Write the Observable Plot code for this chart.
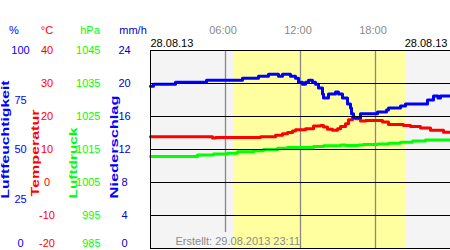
<!DOCTYPE html>
<html><head><meta charset="utf-8">
<script src="https://cdn.jsdelivr.net/npm/d3@7"></script>
<script src="https://cdn.jsdelivr.net/npm/@observablehq/plot@0.6"></script>
<style>html,body{margin:0;padding:0;background:#fff} svg{display:block}</style>
</head><body><div id="chart"></div>
<script>
// ---- data ----
const dateLabel = "28.08.13";
const createdLabel = "Erstellt: 29.08.2013 23:11";
const timeTicks = [6, 12, 18];
const timeLabels = ["06:00", "12:00", "18:00"];
const daylight = [6.64, 20.4];

const humTicks = [0, 25, 50, 75, 100];
const tempTicks = [-20, -10, 0, 10, 20, 30, 40];
const pressTicks = [985, 995, 1005, 1015, 1025, 1035, 1045];
const precipTicks = [0, 4, 8, 12, 16, 20, 24];

const humHours = [0, 0.24, 2.0, 4.48, 7.36, 8.64, 9.44, 10.24, 10.56, 11.2, 11.6, 11.84, 12.16, 12.4, 12.64, 12.96, 13.2, 13.44, 13.76, 13.84, 14.24, 14.8, 15.04, 15.36, 15.76, 16.0, 16.08, 16.24, 16.8, 18.16, 18.88, 19.04, 20.0, 20.4, 22.16, 22.64, 23.0, 23.2, 23.95];
const humValues = [82, 83, 84, 85, 86, 87, 88, 87, 88, 87, 86, 84, 83, 84, 85, 84, 83, 81, 78, 76, 78, 79, 78, 76, 73, 71, 68, 66, 68, 69, 70, 71, 72, 73, 75, 77, 76, 77, 77];

const tempHours = [0, 4.96, 5.2, 8.8, 10.0, 10.56, 10.96, 11.36, 11.6, 12.4, 13.04, 13.6, 13.84, 14.16, 14.56, 14.96, 15.2, 15.6, 15.84, 16.16, 16.4, 16.8, 17.2, 18.56, 19.04, 20.24, 20.8, 21.6, 22.4, 23.44, 23.92];
const tempValues = [13.9, 13.5, 13.6, 13.9, 14.3, 14.8, 15.15, 15.6, 16.0, 16.3, 17.1, 17.3, 16.8, 16.1, 15.8, 16.3, 17.0, 17.8, 19.0, 19.8, 19.3, 18.6, 18.8, 18.3, 17.6, 17.3, 17.0, 16.5, 15.8, 15.2, 15.2];

const pressHours = [0, 3.76, 5.04, 6.16, 6.96, 8.24, 9.04, 10.16, 10.96, 13.04, 13.84, 15.2, 15.6, 16.64, 17.04, 18.16, 19.04, 20.0, 20.96, 22.0, 23.92];
const pressValues = [1012.9, 1013.3, 1013.6, 1013.9, 1014.3, 1014.6, 1015.0, 1015.4, 1015.6, 1015.9, 1016.1, 1016.4, 1016.2, 1016.4, 1016.5, 1016.7, 1016.9, 1017.2, 1017.6, 1017.9, 1017.9];

// ---- mapping of secondary axes onto the temperature scale ----
const humToY = h => -20 + h * 0.6;
const tempToY = t => t;
const pressToY = p => p - 1005;
const precipToY = r => -20 + r * 2.5;

const humidity = humHours.map((t, i) => ({t, v: humValues[i]}));
const temperature = tempHours.map((t, i) => ({t, v: tempValues[i]}));
const pressure = pressHours.map((t, i) => ({t, v: pressValues[i]}));

const BLUE = "#0000ff", RED = "#ff0000", GREEN = "#00ff00", NAVY = "#0000cc", GRAY = "#8a8a8a";

function tickLabels(ticks, toY, dx, anchor, fill) {
  const min = ticks[0];
  const common = {y: v => toY(v), text: v => String(v), frameAnchor: "left", dx, textAnchor: anchor, fill, fontSize: 11};
  return [
    Plot.text(ticks.filter(v => v !== min), {...common, lineAnchor: "middle"}),
    Plot.text([min], {...common, lineAnchor: "middle", dy: -5})
  ];
}

const headers = [
  {t: "%", dx: -136.5, c: BLUE},
  {t: "°C", dx: -103.5, c: RED},
  {t: "hPa", dx: -60.5, c: GREEN},
  {t: "mm/h", dx: -17.5, c: NAVY}
];
const vlabels = [
  {t: "Luftfeuchtigkeit", dx: -142, dy: 148, c: BLUE, len: 118},
  {t: "Temperatur", dx: -112, dy: 146, c: RED, len: 87},
  {t: "Luftdruck", dx: -74, dy: 148, c: GREEN, len: 71},
  {t: "Niederschlag", dx: -32.5, dy: 148, c: BLUE, len: 103}
];

const chart = Plot.plot({
  width: 450,
  height: 250,
  marginLeft: 150,
  marginRight: 0,
  marginTop: 50,
  marginBottom: 2,
  x: {domain: [0, 24], axis: null},
  y: {domain: [-20, 40], axis: null},
  style: {fontFamily: "'Liberation Sans', Arial, sans-serif", fontSize: "11px", background: "#fff", overflow: "visible"},
  marks: [
    Plot.frame({fill: "#f4f4f4", stroke: "none"}),
    Plot.rect([daylight], {x1: d => d[0], x2: d => d[1], fill: "#ffffa0"}),
    Plot.ruleX(timeTicks.filter(t => t !== 6), {stroke: "#888", strokeWidth: 1.3}),
    Plot.ruleX(timeTicks.filter(t => t === 6), {stroke: "#888", strokeWidth: 1.3, insetBottom: 16}),
    Plot.line(pressure, {x: "t", y: d => pressToY(d.v), stroke: GREEN, strokeWidth: 3, curve: "step-after"}),
    Plot.line(temperature, {x: "t", y: d => tempToY(d.v), stroke: RED, strokeWidth: 3, curve: "step-after"}),
    Plot.line(humidity, {x: "t", y: d => humToY(d.v), stroke: BLUE, strokeWidth: 3, curve: "step-after"}),
    Plot.ruleY(tempTicks, {stroke: "#000", strokeWidth: 1}),
    Plot.ruleX([0], {stroke: "#000", strokeWidth: 1}),
    Plot.text([createdLabel], {text: d => d, frameAnchor: "bottom-left", dx: 25, dy: -3.5, textAnchor: "start", lineAnchor: "bottom", fill: GRAY, fontSize: 11}),
    Plot.text(timeTicks, {x: d => d, text: (d, i) => timeLabels[i], frameAnchor: "top", dx: -2.5, dy: -16.7, lineAnchor: "bottom", fill: GRAY, fontSize: 11}),
    Plot.text([dateLabel], {text: d => d, frameAnchor: "top-left", dx: 0, dy: -3.3, textAnchor: "start", lineAnchor: "bottom", fill: "#000", fontSize: 11}),
    Plot.text([dateLabel], {text: d => d, frameAnchor: "top-right", dx: -3, dy: -3.3, textAnchor: "end", lineAnchor: "bottom", fill: "#000", fontSize: 11}),
    ...tickLabels(humTicks, humToY, -130, "middle", BLUE),
    ...tickLabels(tempTicks, tempToY, -103.5, "middle", RED),
    ...tickLabels(pressTicks, pressToY, -50, "end", GREEN),
    ...tickLabels(precipTicks, precipToY, -26, "middle", NAVY),
    ...headers.map(h => Plot.text([h.t], {text: d => d, frameAnchor: "top-left", dx: h.dx, dy: -20, lineAnchor: "middle", textAnchor: "middle", fill: h.c, fontSize: 11})),
    ...vlabels.map(v => Plot.text([v.t], {text: d => d, frameAnchor: "top-left", dx: v.dx, dy: v.dy, rotate: -90, textAnchor: "start", lineAnchor: "bottom", fill: v.c, fontSize: 10, fontWeight: "bold"}))
  ]
});

d3.select(chart).selectAll("text").each(function() {
  const v = vlabels.find(l => l.t === this.textContent);
  if (v) d3.select(this).attr("textLength", v.len).attr("lengthAdjust", "spacingAndGlyphs");
});

document.getElementById("chart").appendChild(chart);
</script>
</body></html>
